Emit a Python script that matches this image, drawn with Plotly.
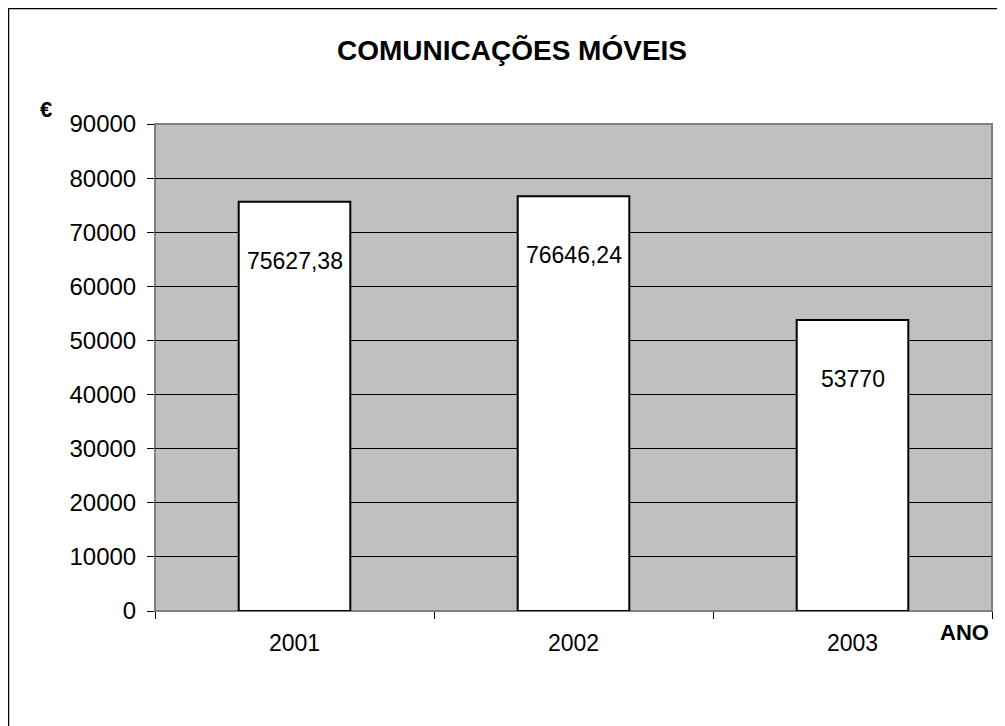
import plotly.graph_objects as go

years = ["2001", "2002", "2003"]
values = [75627.38, 76646.24, 53770]
value_labels = ["75627,38", "76646,24", "53770"]
y_ticks = [0, 10000, 20000, 30000, 40000, 50000, 60000, 70000, 80000, 90000]

FONT = "Liberation Sans, Arial, sans-serif"

# figure is placed at (8, 8) by the page's body margin
W, H = 997, 718
L, R, T, B = 147, 13, 116, 115
PW, PH = W - L - R, H - T - B


def px(fx):
    return (fx - 8 - L) / PW


def py(fy):
    return (H - B - (fy - 8)) / PH


fig = go.Figure()
fig.add_trace(go.Bar(
    x=years, y=values, width=0.4,
    marker=dict(color="white", line=dict(color="black", width=2)),
    hoverinfo="skip",
))

annotations = []
for i, (v, lab) in enumerate(zip(values, value_labels)):
    annotations.append(dict(x=i, y=v, xref="x", yref="y", text=lab, showarrow=False,
                            yanchor="middle", yshift=-59,
                            font=dict(family=FONT, size=23, color="black")))
annotations.append(dict(x=px(512), y=py(50), xref="paper", yref="paper", xanchor="center",
                        yanchor="middle", text="<b>COMUNICAÇÕES MÓVEIS</b>", showarrow=False,
                        font=dict(family=FONT, size=28, color="black")))
annotations.append(dict(text="<b>€</b>", xref="paper", yref="paper", x=px(46),
                        y=py(110), xanchor="center", yanchor="middle", showarrow=False,
                        font=dict(family=FONT, size=22, color="black")))
annotations.append(dict(text="<b>ANO</b>", xref="paper", yref="paper", x=px(991),
                        y=py(632), xanchor="right", yanchor="middle", showarrow=False,
                        font=dict(family=FONT, size=22, color="black")))

fig.update_layout(
    width=W, height=H,
    margin=dict(l=L, r=R, t=T, b=B, autoexpand=False),
    paper_bgcolor="white",
    plot_bgcolor="#C0C0C0",
    showlegend=False,
    annotations=annotations,
    shapes=[dict(type="rect", xref="paper", yref="paper",
                 x0=px(8.5), x1=px(1040), y0=py(760), y1=py(8.5),
                 line=dict(color="black", width=1.5), fillcolor="rgba(0,0,0,0)", layer="below"),
            dict(type="rect", xref="paper", yref="paper", x0=0, x1=1, y0=0, y1=1,
                 line=dict(color="#808080", width=2), fillcolor="rgba(0,0,0,0)", layer="below")],
)
fig.update_xaxes(
    type="category", range=[-0.5, 2.5], tickson="boundaries", ticks="outside", ticklen=7,
    tickcolor="black", tickwidth=1, showgrid=False, showline=False, zeroline=False,
    tickangle=0, automargin=False,
    tickfont=dict(family=FONT, size=23, color="black"), ticklabelstandoff=16,
)
fig.update_yaxes(
    range=[0, 90000], tickvals=y_ticks, ticktext=[str(t) for t in y_ticks],
    ticks="outside", ticklen=7, tickcolor="black", tickwidth=1, automargin=False,
    showgrid=True, gridcolor="black", gridwidth=1, zeroline=False, showline=False,
    tickfont=dict(family=FONT, size=24, color="black"), ticklabelstandoff=6,
)
fig.write_html("out.html")
